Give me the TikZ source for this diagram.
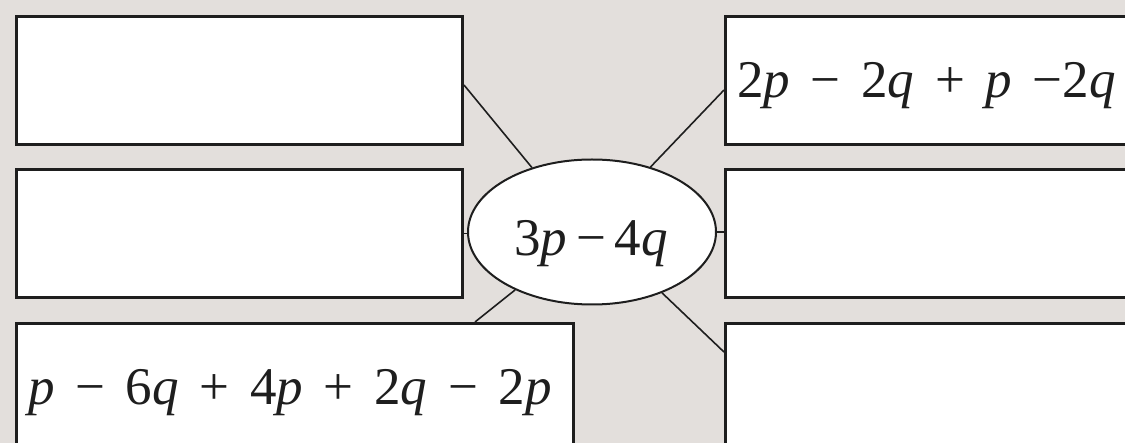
\documentclass[tikz,border=0pt]{standalone}
\usepackage{fontspec}
\setmainfont{Liberation Serif}
\usetikzlibrary{shapes.geometric,calc}
\definecolor{bgc}{HTML}{E3DFDC}
\definecolor{inkc}{HTML}{1E1E1E}
\newcommand\myop[1]{\hspace{0.39em}#1\hspace{0.39em}}
\newcommand\iv[1]{\textit{#1}}
\begin{document}
\begin{tikzpicture}[x=1pt,y=-1pt,
  box/.style={draw=inkc,fill=white,line width=3pt,rectangle,inner sep=0pt,anchor=north west},
  hub/.style={draw=inkc,fill=white,line width=2pt,ellipse,inner sep=0pt,minimum width=248pt,minimum height=145pt},
  link/.style={draw=inkc,line width=1.6pt},
  txt/.style={inner sep=0pt,anchor=base west,text=inkc,font=\fontsize{53}{60}\selectfont}]
\useasboundingbox (0,0) rectangle (1125,443);
\fill[bgc] (0,0) rectangle (1125,443);
\clip (0,0) rectangle (1125,443);
\node[box,minimum width=446pt,minimum height=128pt] (L1) at (15,15) {};
\node[box,minimum width=446pt,minimum height=128pt] (L2) at (15,168) {};
\node[box,minimum width=557pt,minimum height=160pt] (L3) at (15,322) {};
\node[box,minimum width=430pt,minimum height=128pt] (R1) at (724,15) {};
\node[box,minimum width=430pt,minimum height=128pt] (R2) at (724,168) {};
\node[box,minimum width=430pt,minimum height=160pt] (R3) at (724,322) {};
\node[hub] (C) at (592,232) {};
\node[txt,anchor=base] (Ct) at (591,256) {3\iv{p}\hspace{0.17em}−\hspace{0.17em}4\iv{q}};
\node[txt] (R1t) at (737,98) {2\iv{p}\myop{−}2\iv{q}\myop{+}\iv{p}\hspace{0.39em}−2\iv{q}};
\node[txt] (L3t) at (28,405) {\iv{p}\myop{−}6\iv{q}\myop{+}4\iv{p}\myop{+}2\iv{q}\myop{−}2\iv{p}};
\draw[link] ($(L1.north east)+(0,70)$) -- (C.133);
\draw[link] (L2.east) -- (L2.east -| C.west);
\draw[link] (C.217.4) -- ($(L3.north west)+(460,0)$);
\draw[link] (C.48.3) -- ($(R1.north west)+(0,75)$);
\draw[link] (C.east) -- (C.east -| R2.west);
\draw[link] (C.-41.6) -- ($(R3.north west)+(0,30)$);
\end{tikzpicture}
\end{document}
